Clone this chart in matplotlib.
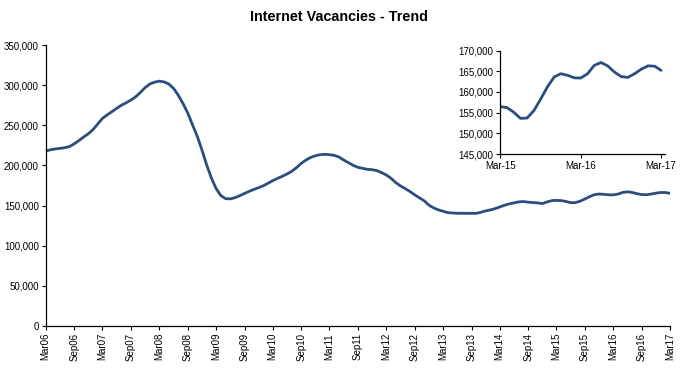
import numpy as np
import pandas as pd
import matplotlib
matplotlib.use("Agg")
import matplotlib.pyplot as plt
from matplotlib.ticker import FuncFormatter, MultipleLocator
import matplotlib.dates as mdates

# monthly internet vacancies, Mar-06 .. Mar-17 (trend series)
start_month = "2006-03-01"
vacancies = [
    218000, 219500, 220500, 221200, 222000, 223500, 227000, 231000, 235500, 239500,
    245000, 252000, 258500, 263000, 267000, 271000, 275000, 278000, 281500, 285500,
    291000, 297000, 301500, 303800, 305000, 304000, 301500, 296000, 287500, 277000,
    265000, 250500, 236000, 219000, 200000, 183500, 171500, 162500, 158700, 158300,
    159800, 162300, 165200, 167700, 170200, 172300, 174800, 178100, 181000, 183900,
    186400, 189300, 192600, 197200, 202600, 206700, 210000, 212100, 213400, 213800,
    213400, 212600, 210500, 206700, 203400, 200100, 197600, 196300, 195100, 194700,
    193500, 191000, 188100, 183900, 178600, 174400, 171100, 167400, 163200, 159500,
    155800, 150400, 147000, 144500, 142900, 141200, 140800, 140400, 140400, 140400,
    140400, 140300, 141700, 143400, 144600, 146300, 148300, 150400, 152100, 153300,
    154600, 155000, 154200, 153700, 153300, 152500, 154600, 156200,
    # Mar-15 .. Mar-17 (also shown in the inset)
    156450, 156200, 155100, 153600, 153700, 155500, 158300, 161200, 163600, 164400,
    164000, 163400, 163350, 164400, 166400, 167100, 166300, 164800, 163700, 163500,
    164400, 165500, 166300, 166200, 165200,
]
inset_months = 25
title = "Internet Vacancies - Trend"

months = pd.date_range(start_month, periods=len(vacancies), freq="MS")
line_color = "#2B4D7E"
font = ["Liberation Sans", "DejaVu Sans"]
plt.rcParams["font.family"] = font
plt.rcParams["font.size"] = 7

fig = plt.figure(figsize=(6.86, 3.72), dpi=100)
fig.text(0.494, 0.955, title, ha="center", va="center", fontsize=10.4, fontweight="bold")

thousands = FuncFormatter(lambda v, p: "0" if v == 0 else f"{int(v):,}")


def style_axes(ax):
    for side in ("top", "right"):
        ax.spines[side].set_visible(False)
    for side in ("left", "bottom"):
        ax.spines[side].set_linewidth(0.9)
        ax.spines[side].set_color("black")
    ax.tick_params(length=3, width=0.8, colors="black", labelsize=7, pad=2)
    ax.yaxis.set_major_formatter(thousands)


# main chart
ax = fig.add_axes([0.0666, 0.1237, 0.9101, 0.7553])
ax.plot(months, vacancies, color=line_color, lw=2.0, solid_capstyle="round")
ax.set_ylim(0, 350000)
ax.yaxis.set_major_locator(MultipleLocator(50000))
ax.set_xlim(months[0], months[-1])
ax.xaxis.set_major_locator(mdates.MonthLocator(bymonth=(3, 9)))
ax.xaxis.set_major_formatter(mdates.DateFormatter("%b%y"))
style_axes(ax)
ax.tick_params(axis="x", labelrotation=90)

# inset: last two years
inset = fig.add_axes([0.7293, 0.586, 0.2401, 0.2782])
inset.plot(months[-inset_months:], vacancies[-inset_months:], color=line_color,
           lw=2.0, solid_capstyle="round")
inset.set_ylim(145000, 170000)
inset.yaxis.set_major_locator(MultipleLocator(5000))
inset.set_xlim(months[-inset_months], months[-1] + pd.Timedelta(days=18))
inset.xaxis.set_major_locator(mdates.MonthLocator(bymonth=3))
inset.xaxis.set_major_formatter(mdates.DateFormatter("%b-%y"))
style_axes(inset)
inset.patch.set_alpha(0)

fig.savefig("out.png", dpi=100, facecolor="white")
